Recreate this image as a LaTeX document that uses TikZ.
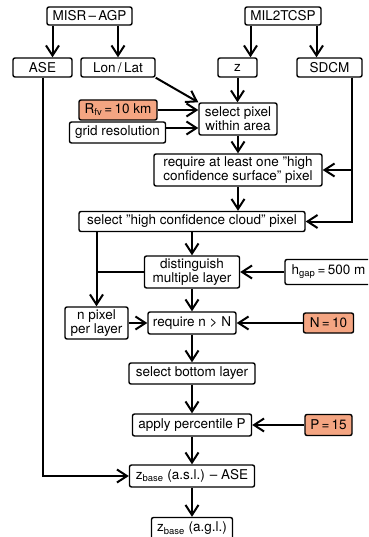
\documentclass[tikz,border=0pt]{standalone}
\usepackage{fontspec}
\setmainfont{TeX Gyre Heros}
\usepackage{tikz}
\usetikzlibrary{arrows.meta}
\definecolor{paramfill}{HTML}{F4A582}

\begin{document}
\begin{tikzpicture}[x=1pt,y=-1pt,
        box/.style={draw, line width=1.4pt, rounded corners=2pt, fill=white,
            inner sep=0pt, align=center, font=\fontsize{13.5}{12}\selectfont},
        param/.style={box, fill=paramfill},
        arr/.style={line width=2pt, -{Straight Barb[length=10pt,width=13pt]}},
        line/.style={line width=2pt}]
        % Define picture size
        \def\figw{368}
        \def\figh{537}
        \useasboundingbox (0,0) rectangle (\figw,\figh);
        \clip (0,0) rectangle (\figw,\figh);

        % Define the x position of the columns
        \def\cx{192} % main column
        \def\tx{238} % upper column

        % Input products
        \node[box, minimum width=85pt, minimum height=18pt] (misr) at (89.5,16) {MISR\,--\,AGP};
        \node[box, minimum width=76pt, minimum height=18pt] (mil) at (283,16) {MIL2TCSP};

        % Variables of the products
        \node[box, minimum width=59pt, minimum height=19pt] (ase) at (42.5,67.5) {ASE};
        \node[box, minimum width=74pt, minimum height=19pt] (lonlat) at (118,67.5) {Lon\,/\,Lat};
        \node[box, minimum width=39pt, minimum height=19pt] (z) at (237.5,67.5) {z};
        \node[box, minimum width=65pt, minimum height=19pt] (sdcm) at (329.5,67.5) {SDCM};

        % Pixel selection
        \node[param, minimum width=78pt, minimum height=20pt] (rfv) at (118,110) {R\textsubscript{fv}\,=\,10 km};
        \node[box, minimum width=96pt, minimum height=21pt] (grid) at (117.5,132.5) {grid resolution};
        \node[box, minimum width=78pt, minimum height=32pt] (sel) at (\tx,119) {select pixel\\within area};
        \node[box, minimum width=168pt, minimum height=32pt] (surf) at (\tx,170) {require at least one "high\\confidence surface" pixel};
        \node[box, minimum width=226pt, minimum height=20pt] (cloud) at (\cx,221.5) {select "high confidence cloud" pixel};

        % Layers
        \node[box, minimum width=95pt, minimum height=32pt] (dist) at (\cx,272) {distinguish\\multiple layer};
        \node[box, minimum width=87pt, minimum height=25pt] (hgap) at (328.5,272) {h\textsubscript{gap}\,=\,500 m};
        \node[box, minimum width=63pt, minimum height=32pt] (npix) at (96.5,323) {n pixel\\per layer};
        \node[box, minimum width=88pt, minimum height=22pt] (reqn) at (\cx,323) {require n > N};
        \node[param, minimum width=50pt, minimum height=20pt] (nmin) at (328.5,323) {N\,=\,10};

        % Cloud base
        \node[box, minimum width=126pt, minimum height=21pt] (bottom) at (\cx,373.5) {select bottom layer};
        \node[box, minimum width=119pt, minimum height=22pt] (perc) at (\cx,425) {apply percentile P};
        \node[param, minimum width=47pt, minimum height=21pt] (pval) at (328.5,425) {P\,=\,15};
        \node[box, minimum width=125pt, minimum height=22pt] (asl) at (\cx,476) {z\textsubscript{base} (a.s.l.) -- ASE};
        \node[box, minimum width=81pt, minimum height=22pt] (agl) at (\cx,528.5) {z\textsubscript{base} (a.g.l.)};

        % Products to variables
        \coordinate (asein) at ([xshift=10pt]ase.north);
        \draw[arr] (misr.south -| asein) -- (asein);
        \draw[arr] (misr.south -| lonlat.north) -- (lonlat.north);
        \coordinate (zin) at ([xshift=13pt]z.north);
        \draw[arr] (mil.south -| zin) -- (zin);
        \coordinate (sdcmin) at ([xshift=-13pt]sdcm.north);
        \draw[arr] (mil.south -| sdcmin) -- (sdcmin);

        % Pixel selection
        \draw[arr] (lonlat.south east) -- (sel.north west);
        \draw[arr] (z.south) -- (z.south |- sel.north);
        \draw[arr] (rfv.east) -- (rfv.east -| sel.west);
        \coordinate (selin) at ([yshift=-9pt]sel.west);
        \draw[arr] (grid.east |- selin) -- (selin);
        \draw[arr] (sel) -- (surf);
        \coordinate (sdcmout) at ([xshift=22pt]sdcm.south);
        \draw[arr] (sdcmout) |- (surf.east);
        \draw[arr] (sdcmout) |- (cloud.east);
        \draw[arr] (surf.south) -- (surf.south |- cloud.north);

        % Layers
        \draw[arr] (cloud) -- (dist);
        \draw[arr] (cloud.south -| npix.north) -- (npix.north);
        \draw[line] (dist.west) -- (dist.west -| npix.north);
        \draw[arr] (hgap) -- (dist);
        \draw[arr] (dist) -- (reqn);
        \draw[arr] (npix) -- (reqn);
        \draw[arr] (nmin) -- (reqn);

        % Cloud base
        \draw[arr] (reqn) -- (bottom);
        \draw[arr] (bottom) -- (perc);
        \draw[arr] (pval) -- (perc);
        \draw[arr] (perc) -- (asl);
        \draw[arr] (ase.south) |- (asl.west);
        \draw[arr] (asl) -- (agl);
    \end{tikzpicture}
\end{document}
